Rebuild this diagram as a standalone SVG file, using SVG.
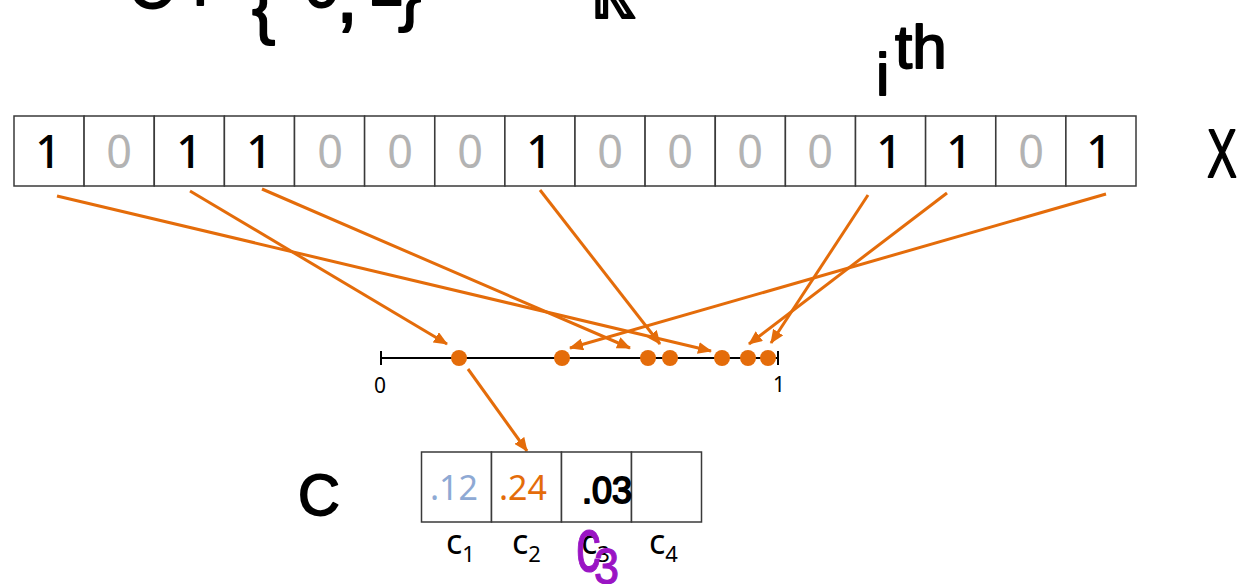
<svg xmlns="http://www.w3.org/2000/svg" width="1241" height="584" viewBox="0 0 1241 584">
<style>
.cell{fill:#fff;stroke:#3a3a3a;stroke-width:1.5}
.d1{font-family:"Noto Sans","Open Sans",sans-serif;font-size:45px;font-weight:500;fill:#000;text-anchor:middle}
.d0{font-family:"Noto Sans","Open Sans",sans-serif;font-size:45px;fill:#b3b3b3;text-anchor:middle}
.hand{font-family:"Liberation Sans",sans-serif;fill:#000;stroke:#000;stroke-width:1.8;stroke-linejoin:round}
.conn{stroke:#E46C0A;stroke-width:3;fill:none}
.dot{fill:#E46C0A}
.axis{stroke:#000;stroke-width:2;fill:none}
.lab{font-family:"Noto Sans","Open Sans",sans-serif;fill:#000}
.cv{font-family:"Noto Sans","Open Sans",sans-serif;font-size:34px;text-anchor:middle}
.pur{font-family:"Liberation Sans",sans-serif;fill:#9A14C4;stroke:#9A14C4;stroke-width:1.2;stroke-linejoin:round}
</style>
<defs>
<marker id="ah" markerUnits="userSpaceOnUse" markerWidth="14" markerHeight="12" refX="13" refY="6" orient="auto">
<path d="M0,0 L14,6 L0,12 z" fill="#E46C0A"/>
</marker>
</defs>
<rect width="1241" height="584" fill="#fff"/>

<g id="title">
<text class="hand" x="128" y="8" font-size="64">C</text>
<text class="hand" x="192" y="5" font-size="60">:</text>
<text class="hand" x="252" y="30" font-size="70">{</text>
<text class="hand" x="304" y="7" font-size="64">0</text>
<text class="hand" x="336" y="22" font-size="80">,</text>
<text class="hand" x="368" y="5" font-size="64">1</text>
<text class="hand" x="398" y="17" font-size="70">}</text>
<text class="hand" x="500" y="1" font-size="60">→</text>
<text class="hand" x="590" y="18" font-size="64">ℝ</text>
</g>

<g id="ith">
<text class="hand" x="876" y="95" font-size="60" stroke-width="1.2">i</text>
<text class="hand" x="895" y="68" font-size="62" stroke-width="0.6">th</text>
</g>

<g id="X-array">
<rect class="cell" x="14" y="116" width="70.1" height="70"/>
<rect class="cell" x="84.1" y="116" width="70.1" height="70"/>
<rect class="cell" x="154.3" y="116" width="70.1" height="70"/>
<rect class="cell" x="224.4" y="116" width="70.1" height="70"/>
<rect class="cell" x="294.5" y="116" width="70.1" height="70"/>
<rect class="cell" x="364.6" y="116" width="70.1" height="70"/>
<rect class="cell" x="434.8" y="116" width="70.1" height="70"/>
<rect class="cell" x="504.9" y="116" width="70.1" height="70"/>
<rect class="cell" x="575" y="116" width="70.1" height="70"/>
<rect class="cell" x="645.1" y="116" width="70.1" height="70"/>
<rect class="cell" x="715.3" y="116" width="70.1" height="70"/>
<rect class="cell" x="785.4" y="116" width="70.1" height="70"/>
<rect class="cell" x="855.5" y="116" width="70.1" height="70"/>
<rect class="cell" x="925.6" y="116" width="70.1" height="70"/>
<rect class="cell" x="995.8" y="116" width="70.1" height="70"/>
<rect class="cell" x="1065.9" y="116" width="70.1" height="70"/>
<text class="d1" x="48" y="168">1</text>
<text class="d0" x="119" y="168">0</text>
<text class="d1" x="189" y="168">1</text>
<text class="d1" x="259" y="168">1</text>
<text class="d0" x="330" y="168">0</text>
<text class="d0" x="400" y="168">0</text>
<text class="d0" x="470" y="168">0</text>
<text class="d1" x="539" y="168">1</text>
<text class="d0" x="610" y="168">0</text>
<text class="d0" x="680" y="168">0</text>
<text class="d0" x="750" y="168">0</text>
<text class="d0" x="820" y="168">0</text>
<text class="d1" x="889" y="168">1</text>
<text class="d1" x="959" y="168">1</text>
<text class="d0" x="1031" y="168">0</text>
<text class="d1" x="1099" y="168">1</text>
</g>

<g id="X-label">
<text class="hand" x="0" y="0" font-size="68" text-anchor="middle" transform="translate(1222,177) scale(0.65,1)">X</text>
</g>

<g id="number-line">
<line class="axis" x1="381" y1="358" x2="778" y2="358"/>
<line class="axis" x1="381" y1="351" x2="381" y2="365"/>
<line class="axis" x1="778" y1="351" x2="778" y2="365"/>
<text class="lab" x="380" y="393" font-size="21" text-anchor="middle">0</text>
<text class="lab" x="779" y="392" font-size="21" text-anchor="middle">1</text>
<circle class="dot" cx="459" cy="358" r="8"/>
<circle class="dot" cx="562" cy="358" r="8"/>
<circle class="dot" cx="648" cy="358" r="8"/>
<circle class="dot" cx="670" cy="358" r="8"/>
<circle class="dot" cx="722" cy="358" r="8"/>
<circle class="dot" cx="748" cy="358" r="8"/>
<circle class="dot" cx="768" cy="358" r="8"/>
</g>

<g id="connectors">
<line class="conn" x1="57" y1="196" x2="711" y2="351" marker-end="url(#ah)"/>
<line class="conn" x1="190" y1="191" x2="447" y2="344" marker-end="url(#ah)"/>
<line class="conn" x1="262" y1="189" x2="630" y2="348" marker-end="url(#ah)"/>
<line class="conn" x1="540" y1="190" x2="660" y2="344" marker-end="url(#ah)"/>
<line class="conn" x1="868" y1="195" x2="771" y2="343" marker-end="url(#ah)"/>
<line class="conn" x1="947" y1="193" x2="749" y2="344" marker-end="url(#ah)"/>
<line class="conn" x1="1106" y1="194" x2="570" y2="348" marker-end="url(#ah)"/>
<line class="conn" x1="468" y1="369" x2="527" y2="451" marker-end="url(#ah)"/>
</g>

<g id="C-label">
<text class="hand" x="298" y="515" font-size="58">C</text>
</g>

<g id="C-array">
<rect class="cell" x="421.5" y="452" width="70" height="70"/>
<rect class="cell" x="491.5" y="452" width="70" height="70"/>
<rect class="cell" x="561.5" y="452" width="70" height="70"/>
<rect class="cell" x="631.5" y="452" width="70" height="70"/>
<text class="cv" x="454" y="500" fill="#8EA9D4">.12</text>
<text class="cv" x="523" y="500" fill="#E46C0A">.24</text>
<text class="hand" x="607" y="503" font-size="36" text-anchor="middle">.03</text>
</g>

<g id="C-indices">
<text class="lab" x="446" y="554" font-size="34">c<tspan font-size="22" dy="8">1</tspan></text>
<text class="lab" x="512" y="554" font-size="34">c<tspan font-size="22" dy="8">2</tspan></text>
<text class="lab" x="581" y="554" font-size="34">c<tspan font-size="22" dy="8">3</tspan></text>
<text class="lab" x="649" y="554" font-size="34">c<tspan font-size="22" dy="8">4</tspan></text>
</g>

<g id="c3-note">
<text class="pur" x="0" y="0" font-size="76" transform="translate(576,571) scale(0.65,1)">c</text>
<text class="pur" x="0" y="0" font-size="50" transform="translate(594,584) scale(0.9,1)">3</text>
</g>
</svg>
